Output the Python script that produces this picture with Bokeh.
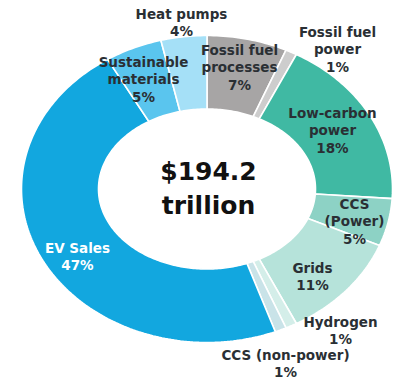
import numpy as np
from bokeh.plotting import figure
from bokeh.models import Range1d, ColumnDataSource
from bokeh.core.properties import value
from bokeh.embed import file_html
from bokeh.resources import INLINE

# ---- data ----
categories = ["Fossil fuel processes", "Fossil fuel power", "Low-carbon power",
              "CCS (Power)", "Grids", "Hydrogen", "CCS (non-power)",
              "EV Sales", "Sustainable materials", "Heat pumps"]
shares = [7, 1, 18, 5, 11, 1, 1, 47, 5, 4]
label_texts = ["Fossil fuel\nprocesses\n7%", "Fossil fuel\npower\n1%", "Low-carbon\npower\n18%",
               "CCS\n(Power)\n5%", "Grids\n11%", "Hydrogen\n1%", "CCS (non-power)\n1%",
               "EV Sales\n47%", "Sustainable\nmaterials\n5%", "Heat pumps\n4%"]
total_text = "$194.2\ntrillion"

# ---- styles / layout ----
colors = ["#a7a5a5", "#cdcdcd", "#40b9a3", "#8dd2c5", "#b6e3da", "#d4eee9",
          "#c9e3e8", "#12a7df", "#5ac5ee", "#a5e0f7"]
label_colors = ["#2a2f34"] * 7 + ["#ffffff"] + ["#2a2f34"] * 2
label_pos = [(239, 67), (337, 49), (332, 130), (354, 221), (312, 276),
             (340, 330), (285, 363), (77, 256), (143, 79), (181, 22)]
cx, cy = 206.5, 188.5
outer_rx, outer_ry = 185.5, 153.5
inner_rx, inner_ry = 108.5, 80.0

W, H = 397, 380
p = figure(width=W, height=H, output_backend="svg", toolbar_location=None,
           x_range=Range1d(0, W), y_range=Range1d(H, 0),
           min_border=0, outline_line_color=None, background_fill_color="white")
p.axis.visible = False
p.grid.visible = False

# build ring segments from the shares (angles clockwise from the top)
cum = np.concatenate([[0], np.cumsum(shares)]) / sum(shares) * 2 * np.pi
xs, ys = [], []
for a0, a1 in zip(cum[:-1], cum[1:]):
    t = np.linspace(a0, a1, max(8, int((a1 - a0) * 60)))
    ox = cx + outer_rx * np.sin(t)
    oy = cy - outer_ry * np.cos(t)
    ix = cx + inner_rx * np.sin(t[::-1])
    iy = cy - inner_ry * np.cos(t[::-1])
    xs.append(list(np.concatenate([ox, ix])))
    ys.append(list(np.concatenate([oy, iy])))

src = ColumnDataSource(dict(xs=xs, ys=ys, color=colors, name=categories))
p.patches("xs", "ys", source=src, fill_color="color", line_color="white", line_width=1.6)

lsrc = ColumnDataSource(dict(x=[q[0] for q in label_pos], y=[q[1] for q in label_pos],
                             text=label_texts, color=label_colors))
p.text("x", "y", text="text", source=lsrc, text_color="color",
       text_font=value("DejaVu Sans"), text_font_style="bold", text_font_size="13.5px",
       text_align="center", text_baseline="middle", text_line_height=1.12)

p.text(x=[208], y=[188], text=[total_text], text_color="#111111",
       text_font=value("DejaVu Sans"), text_font_style="bold", text_font_size="25px",
       text_align="center", text_baseline="middle", text_line_height=1.2)

open("out.html", "w").write(file_html(p, INLINE))
